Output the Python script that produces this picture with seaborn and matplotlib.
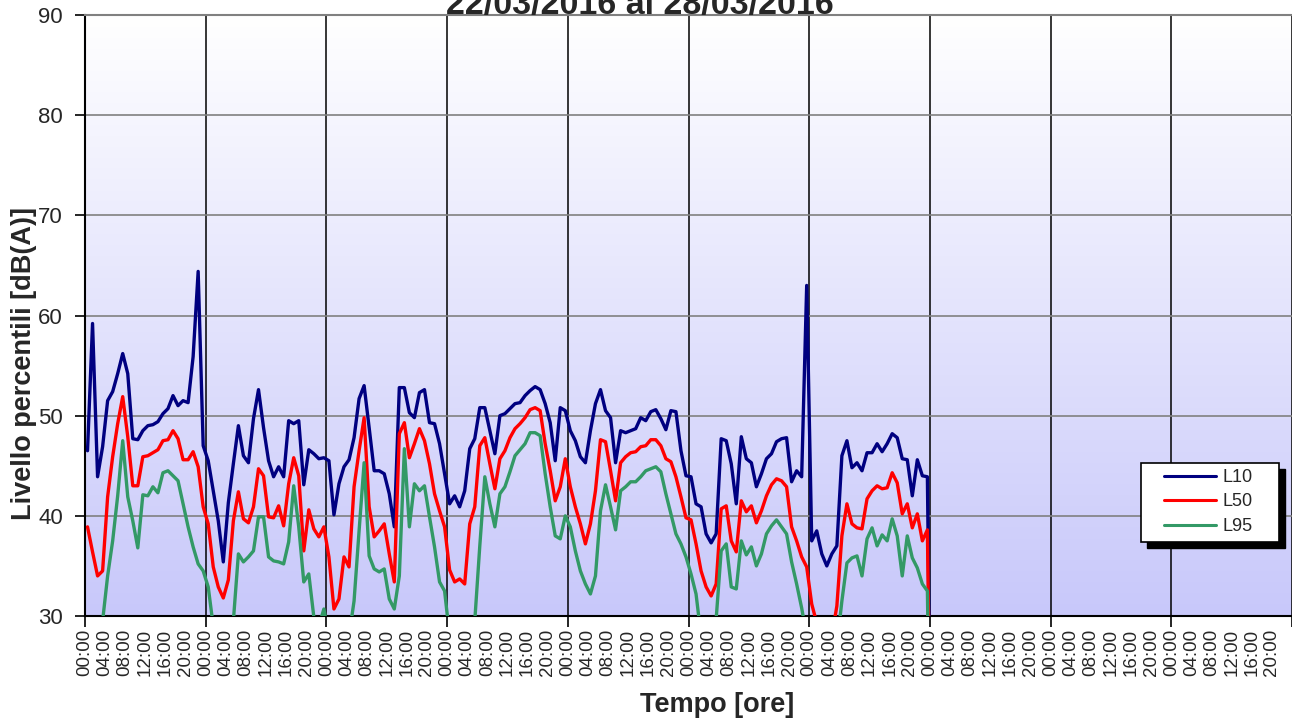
import numpy as np
import pandas as pd
import matplotlib
matplotlib.use("Agg")
import matplotlib.pyplot as plt
from matplotlib.colors import LinearSegmentedColormap
from matplotlib.patches import Rectangle
import seaborn as sns

# Hourly percentile levels dB(A), 22/03/2016 00:00 -> 28/03/2016 23:00, plus the closing record
l10 = [46.5, 59.2, 43.9, 46.9, 51.5, 52.4, 54.2, 56.2, 54.2, 47.7, 47.6, 48.5, 49.0, 49.1, 49.4, 50.2, 50.7, 52.0, 51.0, 51.5, 51.3, 55.9, 64.4, 47.0,
       45.5, 42.5, 39.5, 35.4, 41.3, 45.2, 49.0, 46.0, 45.3, 49.7, 52.6, 48.8, 45.5, 43.9, 44.9, 43.9, 49.5, 49.2, 49.5, 43.1, 46.6, 46.2, 45.7, 45.8,
       45.5, 40.1, 43.2, 44.9, 45.6, 47.8, 51.7, 53.0, 48.8, 44.5, 44.5, 44.2, 42.2, 38.9, 52.8, 52.8, 50.3, 49.8, 52.3, 52.6, 49.3, 49.2, 47.2, 44.2,
       41.2, 42.0, 40.9, 42.5, 46.7, 47.7, 50.8, 50.8, 48.5, 46.2, 50.0, 50.2, 50.7, 51.2, 51.3, 52.0, 52.5, 52.9, 52.6, 51.2, 49.3, 45.5, 50.8, 50.5,
       48.5, 47.5, 45.9, 45.3, 48.5, 51.2, 52.6, 50.5, 49.8, 45.3, 48.5, 48.3, 48.5, 48.7, 49.8, 49.5, 50.4, 50.6, 49.7, 48.6, 50.5, 50.4, 46.5, 44.0,
       43.9, 41.2, 40.9, 38.2, 37.3, 38.2, 47.7, 47.5, 45.2, 41.2, 47.9, 45.7, 45.3, 42.9, 44.2, 45.7, 46.2, 47.4, 47.7, 47.8, 43.4, 44.5, 43.9, 63.0,
       37.5, 38.5, 36.2, 35.0, 36.2, 37.0, 46.0, 47.5, 44.8, 45.3, 44.5, 46.3, 46.3, 47.2, 46.4, 47.2, 48.2, 47.8, 45.7, 45.6, 42.0, 45.6, 44.0, 43.9,
       0.0]
l50 = [38.9, 36.4, 34.0, 34.5, 41.9, 45.9, 49.2, 51.9, 47.9, 43.0, 43.0, 45.9, 46.0, 46.3, 46.6, 47.5, 47.6, 48.5, 47.7, 45.6, 45.6, 46.4, 44.9, 40.9,
       39.2, 34.9, 32.9, 31.8, 33.6, 39.5, 42.4, 39.7, 39.3, 40.9, 44.7, 44.0, 39.9, 39.8, 41.0, 39.0, 43.2, 45.8, 44.0, 36.5, 40.6, 38.7, 37.9, 38.9,
       35.9, 30.7, 31.7, 35.9, 34.9, 42.9, 46.5, 49.8, 40.9, 37.9, 38.5, 39.2, 36.2, 33.4, 48.2, 49.3, 45.8, 47.2, 48.7, 47.5, 45.2, 42.2, 40.5, 38.9,
       34.6, 33.4, 33.7, 33.2, 39.2, 40.9, 47.0, 47.8, 45.2, 42.7, 45.7, 46.5, 47.8, 48.7, 49.2, 49.8, 50.6, 50.8, 50.5, 47.2, 44.5, 41.5, 42.9, 45.7,
       42.9, 40.9, 39.2, 37.2, 39.2, 42.5, 47.6, 47.4, 44.5, 41.5, 45.3, 45.9, 46.3, 46.4, 46.9, 47.0, 47.6, 47.6, 47.0, 45.7, 45.4, 43.9, 41.9, 39.8,
       39.6, 37.2, 34.5, 32.9, 32.0, 33.2, 40.7, 41.0, 37.5, 36.4, 41.5, 40.4, 41.0, 39.3, 40.5, 42.0, 43.1, 43.7, 43.5, 42.9, 38.9, 37.5, 35.9, 34.9,
       31.2, 29.3, 27.0, 26.5, 28.0, 31.0, 38.0, 41.2, 39.2, 38.8, 38.7, 41.7, 42.5, 43.0, 42.7, 42.8, 44.3, 43.3, 40.2, 41.2, 38.8, 40.2, 37.5, 38.6,
       0.0]
l95 = [27.0, 26.0, 27.0, 29.5, 34.0, 37.5, 42.0, 47.5, 41.9, 39.5, 36.8, 42.1, 42.0, 42.9, 42.3, 44.3, 44.5, 44.0, 43.5, 41.2, 38.9, 36.9, 35.2, 34.5,
       32.9, 29.0, 27.0, 26.5, 27.0, 29.5, 36.2, 35.4, 35.9, 36.5, 39.9, 39.9, 35.9, 35.5, 35.4, 35.2, 37.4, 43.0, 38.9, 33.4, 34.2, 29.9, 29.0, 30.7,
       28.0, 26.0, 26.0, 27.0, 28.0, 31.5, 38.5, 45.3, 36.0, 34.7, 34.4, 34.7, 31.7, 30.7, 34.0, 46.7, 38.9, 43.2, 42.5, 43.0, 39.9, 36.9, 33.4, 32.5,
       28.0, 27.0, 26.0, 26.0, 27.0, 29.5, 37.0, 43.9, 41.2, 38.9, 42.2, 42.9, 44.4, 46.0, 46.6, 47.2, 48.3, 48.3, 48.0, 44.2, 40.9, 38.0, 37.7, 40.0,
       38.9, 36.5, 34.5, 33.2, 32.2, 34.0, 40.5, 43.1, 40.9, 38.6, 42.5, 42.9, 43.4, 43.4, 43.9, 44.5, 44.7, 44.9, 44.4, 42.2, 40.2, 38.2, 37.2, 35.9,
       34.2, 32.2, 28.0, 27.0, 27.0, 29.7, 36.5, 37.2, 32.9, 32.7, 37.5, 36.1, 36.9, 35.0, 36.2, 38.2, 39.0, 39.6, 38.9, 38.2, 35.4, 33.2, 30.8, 28.0,
       27.0, 26.0, 26.0, 26.0, 26.5, 27.0, 31.5, 35.3, 35.8, 36.0, 34.0, 37.7, 38.8, 37.0, 38.1, 37.5, 39.7, 38.0, 34.0, 38.0, 35.8, 34.8, 33.2, 32.5,
       0.0]

series_names = ["L10", "L50", "L95"]
series_colors = ["#000080", "#FF0000", "#339966"]
hour_labels = ["00:00", "04:00", "08:00", "12:00", "16:00", "20:00"]
days_on_axis = 10

# points sit in the middle of each hourly category (Excel style)
hours = np.arange(len(l10)) + 0.5
data = pd.DataFrame({
    "ora": np.tile(hours, 3),
    "livello": l10 + l50 + l95,
    "serie": np.repeat(series_names, len(l10)),
})

sns.set_style("white")
plt.rcParams["font.family"] = ["Liberation Sans", "DejaVu Sans"]

W, H = 1292, 720
fig = plt.figure(figsize=(W / 100, H / 100), dpi=100)
ax = fig.add_axes([85 / W, 104 / H, 1207 / W, 601 / H])

xmax = 24 * days_on_axis

# white -> lavender gradient behind the plot
grad = np.linspace(0, 1, 256).reshape(-1, 1)
bg = LinearSegmentedColormap.from_list("bg", ["#FFFFFF", "#C8C8FA"])
ax.imshow(grad, cmap=bg, aspect="auto", extent=[0, xmax, 30, 90], origin="upper", zorder=0)

sns.lineplot(data=data, x="ora", y="livello", hue="serie", palette=dict(zip(series_names, series_colors)),
             estimator=None, linewidth=2.4, ax=ax, zorder=3)

ax.set_xlim(0, xmax)
ax.set_ylim(30, 90)

# y axis
ax.set_yticks(np.arange(30, 91, 10))
ax.tick_params(axis="y", direction="out", length=7, width=1.2, color="black", labelsize=16, pad=9, left=True)
ax.yaxis.grid(True, color="#808080", linewidth=1.2)

# x axis: labels every 4 h, tick marks and black lines at each day
ax.xaxis.remove_overlapping_locs = False
ax.set_xticks(np.arange(0, xmax, 4))
ax.set_xticklabels(hour_labels * days_on_axis, rotation=90)
ax.set_xticks(np.arange(0, xmax + 1, 24), minor=True)
ax.tick_params(axis="x", which="major", length=0, labelsize=13.5, pad=9)
ax.tick_params(axis="x", which="minor", direction="out", length=8, width=1.2, color="black", bottom=True)
ax.xaxis.grid(True, which="minor", color="black", linewidth=1.1)
ax.xaxis.grid(False, which="major")
ax.set_axisbelow(True)

for side in ["left", "bottom"]:
    ax.spines[side].set_color("black")
    ax.spines[side].set_linewidth(1.5)
ax.spines["top"].set_color("#808080")
ax.spines["top"].set_linewidth(1.5)
ax.spines["right"].set_visible(False)

ax.set_xlabel("Tempo [ore]", fontsize=19.5, fontweight="bold", va="baseline")
ax.xaxis.set_label_coords(0.524, (616 - 712) / 601)
ax.set_ylabel("Livello percentili [dB(A)]", fontsize=19.5, fontweight="bold", va="center")
ax.yaxis.set_label_coords((24 - 85) / 1207, 0.42)

fig.text(640 / W, (H - 14) / H, "22/03/2016 al 28/03/2016", ha="center", va="baseline",
         fontsize=24.5, fontweight="bold")

# legend box with solid shadow
bx, by, bw, bh = (1141 - 85) / 1207, (616 - 541.5) / 601, 138 / 1207, 79 / 601
ax.add_patch(Rectangle((bx + 6 / 1207, by - 6 / 601), bw, bh, transform=ax.transAxes,
                       facecolor="black", edgecolor="black", clip_on=False, zorder=6))
ax.add_patch(Rectangle((bx, by), bw, bh, transform=ax.transAxes,
                       facecolor="white", edgecolor="black", linewidth=1.2, clip_on=False, zorder=7))
handles, labels = ax.get_legend_handles_labels()
leg = ax.legend(handles, labels, loc="center left", bbox_to_anchor=((1164 - 85) / 1207, (616 - 502) / 601),
                frameon=False, fontsize=13, handlelength=2.9, handletextpad=0.35, labelspacing=0.42,
                borderpad=0, borderaxespad=0)
leg.set_zorder(8)
for line in leg.get_lines():
    line.set_linewidth(2.2)

fig.savefig("out.png", dpi=100)
